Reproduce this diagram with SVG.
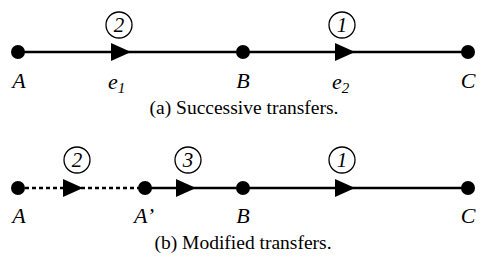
<svg xmlns="http://www.w3.org/2000/svg" width="487" height="262" viewBox="0 0 487 262">
<style>
.line{stroke:#000;stroke-width:2.5;fill:none}
.dash{stroke:#000;stroke-width:2.5;fill:none;stroke-dasharray:4 3}
.dot{fill:#000}
.head{fill:#000}
.circ{fill:none;stroke:#000;stroke-width:1.3}
text{font-family:"Liberation Serif","Times New Roman",Times,"DejaVu Serif",serif;fill:#000}
.lbl{font-style:italic;font-size:22px}
.num{font-style:italic;font-size:21px}
.cap{font-size:19.5px}
</style>
<rect width="487" height="262" fill="#fff"/>
<g id="connectors">
<line class="line" x1="18" y1="52" x2="468" y2="52"/>
<polygon class="head" points="111,43 131,52 111,61"/>
<polygon class="head" points="335,43 355,52 335,61"/>
<line class="dash" x1="18" y1="188" x2="145" y2="188"/>
<polygon class="head" points="63,179 83,188 63,197"/>
<line class="line" x1="145" y1="188" x2="468" y2="188"/>
<polygon class="head" points="176,179 196,188 176,197"/>
<polygon class="head" points="335,179 355,188 335,197"/>
</g>
<g id="e1-label">
<circle class="circ" cx="119" cy="25" r="13"/>
<text class="num" x="119" y="32" text-anchor="middle">2</text>
<text class="lbl" x="108" y="89">e<tspan font-size="15" dy="4">1</tspan></text>
</g>
<g id="e2-label">
<circle class="circ" cx="342" cy="25" r="13"/>
<text class="num" x="342" y="32" text-anchor="middle">1</text>
<text class="lbl" x="332" y="89">e<tspan font-size="15" dy="4">2</tspan></text>
</g>
<g id="nodeA">
<circle class="dot" cx="18" cy="52" r="7"/>
<text class="lbl" x="19" y="88" text-anchor="middle">A</text>
</g>
<g id="nodeB">
<circle class="dot" cx="243" cy="52" r="7"/>
<text class="lbl" x="243" y="88" text-anchor="middle">B</text>
</g>
<g id="nodeC">
<circle class="dot" cx="468" cy="52" r="7"/>
<text class="lbl" x="468" y="88" text-anchor="middle">C</text>
</g>
<text class="cap" x="244" y="114" text-anchor="middle">(a) Successive transfers.</text>
<g id="b-labels">
<circle class="circ" cx="77" cy="160" r="13"/>
<text class="num" x="77" y="167" text-anchor="middle">2</text>
<circle class="circ" cx="188" cy="160" r="13"/>
<text class="num" x="188" y="167" text-anchor="middle">3</text>
<circle class="circ" cx="342" cy="160" r="13"/>
<text class="num" x="342" y="167" text-anchor="middle">1</text>
</g>
<g id="nodeA2">
<circle class="dot" cx="18" cy="188" r="7"/>
<text class="lbl" x="19" y="223" text-anchor="middle">A</text>
</g>
<g id="nodeAp">
<circle class="dot" cx="145" cy="188" r="7"/>
<text class="lbl" x="144" y="223" text-anchor="middle">A’</text>
</g>
<g id="nodeB2">
<circle class="dot" cx="243" cy="188" r="7"/>
<text class="lbl" x="243" y="223" text-anchor="middle">B</text>
</g>
<g id="nodeC2">
<circle class="dot" cx="468" cy="188" r="7"/>
<text class="lbl" x="468" y="223" text-anchor="middle">C</text>
</g>
<text class="cap" x="243" y="249" text-anchor="middle">(b) Modified transfers.</text>
</svg>
